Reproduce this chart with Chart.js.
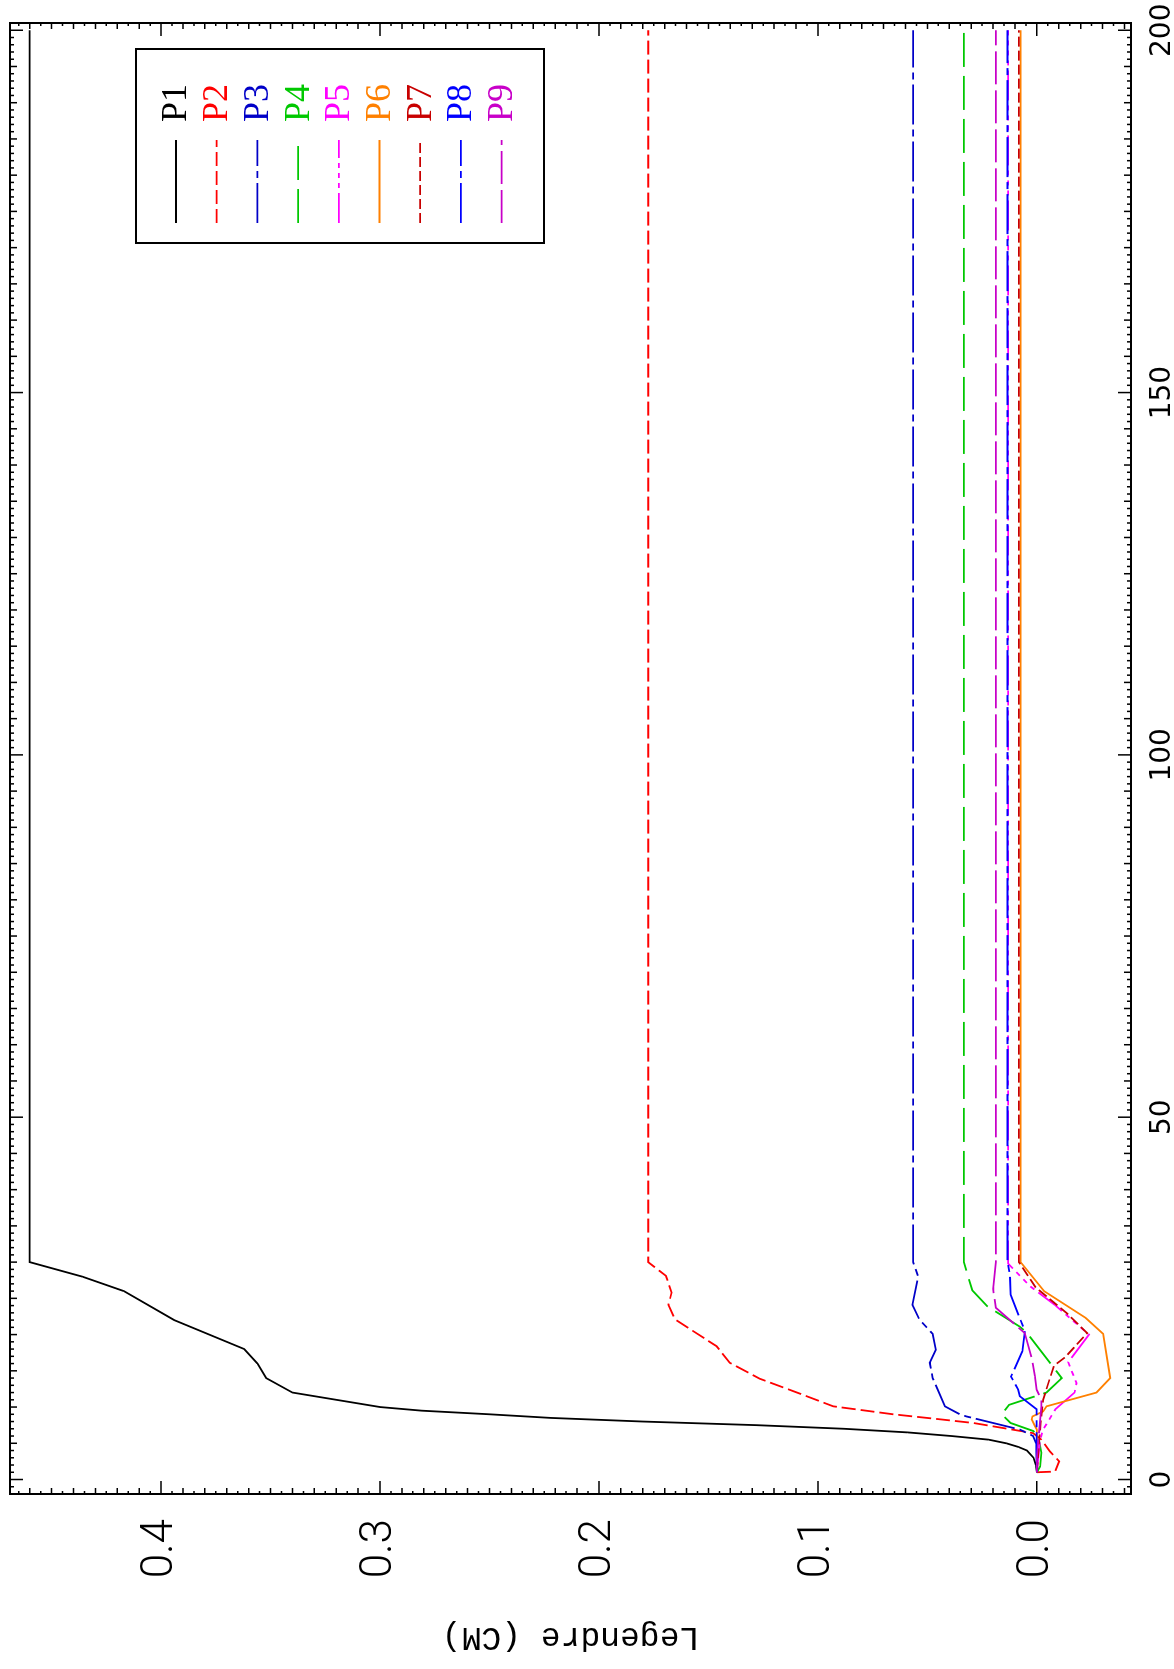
<!DOCTYPE html>
<html>
<head>
<meta charset="utf-8">
<script src="https://cdn.jsdelivr.net/npm/chart.js@4.4.0/dist/chart.umd.min.js"></script>
<style>
  html, body { margin: 0; padding: 0; background: #fff; overflow: hidden; }
  /* the plot is drawn in landscape and turned a quarter turn to the left */
  #wrap {
    position: absolute; left: 0; top: 0;
    width: 1669px; height: 1174px;
    transform-origin: 0 0;
    transform: translate(0, 1669px) rotate(-90deg);
  }
</style>
</head>
<body>
<div id="wrap"><canvas id="legendreChart" width="1669" height="1174"></canvas></div>
<script>
// axis ticks
const xTicks = [0, 50, 100, 150, 200];
const yTicks = [0.0, 0.1, 0.2, 0.3, 0.4];
const seriesNames = ['P1', 'P2', 'P3', 'P4', 'P5', 'P6', 'P7', 'P8', 'P9'];

// values (x, coefficient)
const p1X = [1, 2, 3, 4, 4.5, 5, 5.5, 6, 6.5, 7, 7.5, 8, 8.5, 9, 9.5, 10, 12, 14, 16, 18, 22, 26, 28, 30, 200];
const p1Y = [0, 0.0004, 0.0015, 0.0045, 0.0085, 0.014, 0.022, 0.039, 0.059, 0.088, 0.128, 0.180, 0.222, 0.250, 0.281, 0.300, 0.340, 0.352, 0.356, 0.362, 0.394, 0.417, 0.436, 0.460, 0.460];

const p2X = [1, 1.1, 2.5, 3.9, 5.5, 6.4, 7.8, 8.3, 9.0, 10.1, 12.2, 13.9, 16.1, 18.4, 22.1, 24.1, 25.8, 28.1, 30, 200];
const p2Y = [0, -0.0083, -0.0102, -0.0059, -0.0021, 0.0017, 0.029, 0.044, 0.0656, 0.093, 0.1113, 0.1265, 0.1402, 0.1463, 0.1653, 0.1683, 0.1668, 0.1694, 0.1775, 0.1775];

const p3X = [1, 5, 6.0, 6.9, 8.7, 9, 10.1, 14, 16.1, 17.9, 20.1, 22.1, 24.1, 28, 30, 200];
const p3Y = [0, 0.0003, 0.0017, 0.0078, 0.0321, 0.0352, 0.042, 0.0476, 0.0489, 0.0461, 0.0476, 0.0537, 0.0568, 0.0542, 0.0565, 0.0565];

const p4X = [1, 1.8, 3.7, 6.0, 6.7, 7.8, 9, 10.3, 12, 14, 20.3, 21.1, 23.9, 26.1, 30, 200];
const p4Y = [0, -0.0015, -0.0021, -0.0006, 0.0017, 0.012, 0.0161, 0.0127, -0.0044, -0.0114, 0.0047, 0.0078, 0.0226, 0.0295, 0.0333, 0.0333];

const p5X = [1, 5.5, 6.9, 9.7, 12, 13.3, 16.2, 20, 24.1, 26.7, 29.8, 200];
const p5Y = [0, -0.0015, -0.0029, -0.0085, -0.0172, -0.0181, -0.0143, -0.0238, -0.0082, 0.0032, 0.0131, 0.0131];

const p6X = [1, 6.9, 7.4, 8.3, 8.7, 9.4, 10.1, 12, 14, 20.1, 22.3, 26, 30, 200];
const p6Y = [0, 0, 0.0009, 0.0024, 0.0020, -0.0029, -0.0044, -0.0272, -0.0335, -0.0303, -0.0223, -0.0033, 0.0074, 0.0074];

const p7X = [1, 7.8, 11, 12.5, 15.7, 16.9, 20.2, 23, 26.5, 30, 200];
const p7Y = [0, -0.0017, -0.0029, -0.0044, -0.0078, -0.0130, -0.0230, -0.0135, 0.0005, 0.0082, 0.0082];

const p8X = [1, 9.7, 11.5, 12.4, 14.2, 17.7, 20.5, 25.5, 28.3, 30, 200];
const p8Y = [0, 0.0001, 0.0078, 0.0085, 0.0118, 0.0066, 0.0055, 0.0120, 0.0123, 0.0134, 0.0134];

const p9X = [1, 3, 7.8, 10.1, 11, 12.4, 14.3, 16.8, 20.2, 23.7, 26.3, 30, 200];
const p9Y = [0, 0, -0.0014, -0.0021, -0.0021, 0.0001, 0.0009, 0.0024, 0.0055, 0.0187, 0.0200, 0.0187, 0.0187];

const seriesX = [p1X, p2X, p3X, p4X, p5X, p6X, p7X, p8X, p9X];
const seriesY = [p1Y, p2Y, p3Y, p4Y, p5Y, p6Y, p7Y, p8Y, p9Y];

// line styles
const colors = ['#000000', '#ff0000', '#0000c8', '#00c800', '#ff00ff', '#ff8000', '#c80000', '#0000ff', '#c800c8'];
const dashes = [[], [14, 5], [40, 5, 7, 5], [34, 9], [30, 5, 5, 5, 5, 5, 5, 5], [], [10, 4], [40, 5, 7, 5], [33, 6]];
const monoFont = '"Liberation Mono", monospace';

const datasets = seriesNames.map((name, i) => ({
  label: name,
  data: seriesX[i].map((x, j) => ({ x: x, y: seriesY[i][j] })),
  borderColor: colors[i],
  borderDash: dashes[i],
  borderWidth: 1.8,
  pointRadius: 0,
  fill: false,
  tension: 0,
  order: seriesNames.length - i
}));

// keep the plot box where it is: no extra room for edge labels
function noPad(s) {
  s.paddingLeft = 0; s.paddingRight = 0; s.paddingTop = 0; s.paddingBottom = 0;
}

// box + inward ticks on all four sides
const frameTicks = {
  id: 'frameTicks',
  afterDatasetsDraw(chart) {
    const { ctx, chartArea: a, scales: { x, y } } = chart;
    ctx.save();
    ctx.strokeStyle = '#000';
    ctx.lineWidth = 1.5;
    ctx.beginPath();
    for (let v = Math.ceil(x.min); v <= x.max; v++) {
      const len = v % 50 === 0 ? 13 : (v % 5 === 0 ? 7 : 4);
      const px = x.getPixelForValue(v);
      ctx.moveTo(px, a.bottom); ctx.lineTo(px, a.bottom - len);
      ctx.moveTo(px, a.top); ctx.lineTo(px, a.top + len);
    }
    for (let k = Math.ceil(y.min / 0.005); k * 0.005 <= y.max; k++) {
      const len = k % 20 === 0 ? 13 : (k % 2 === 0 ? 6 : 3);
      const py = y.getPixelForValue(k * 0.005);
      ctx.moveTo(a.left, py); ctx.lineTo(a.left + len, py);
      ctx.moveTo(a.right, py); ctx.lineTo(a.right - len, py);
    }
    ctx.stroke();
    ctx.lineWidth = 2;
    ctx.strokeRect(a.left, a.top, a.width, a.height);
    ctx.restore();
  }
};

// framed legend in the upper right corner
const boxLegend = {
  id: 'boxLegend',
  afterDraw(chart) {
    const { ctx, chartArea: a } = chart;
    ctx.save();
    ctx.strokeStyle = '#000';
    ctx.lineWidth = 2;
    ctx.strokeRect(a.right - 220, a.top + 126, 194, 408);
    ctx.font = '36px "Liberation Serif"';
    ctx.textBaseline = 'middle';
    ctx.textAlign = 'left';
    chart.data.datasets.forEach((ds, i) => {
      const rowY = a.top + 166 + 40.7 * i;
      ctx.strokeStyle = ds.borderColor;
      ctx.lineWidth = 1.8;
      ctx.setLineDash(ds.borderDash);
      ctx.beginPath();
      ctx.moveTo(a.right - 200, rowY);
      ctx.lineTo(a.right - 117, rowY);
      ctx.stroke();
      ctx.setLineDash([]);
      ctx.fillStyle = ds.borderColor;
      ctx.fillText(ds.label, a.right - 99, rowY + 1);
    });
    ctx.restore();
  }
};

const ctx = document.getElementById('legendreChart').getContext('2d');
new Chart(ctx, {
  type: 'line',
  data: { datasets: datasets },
  options: {
    responsive: false,
    animation: false,
    devicePixelRatio: 1,
    layout: { padding: { top: 10, right: 23, left: 0, bottom: 0 } },
    plugins: {
      legend: { display: false },
      tooltip: { enabled: false }
    },
    scales: {
      x: {
        type: 'linear',
        min: -2,
        max: 201,
        grid: { display: false },
        border: { display: false },
        afterBuildTicks: s => { s.ticks = xTicks.map(v => ({ value: v })); },
        afterFit: s => { s.height = 43; noPad(s); },
        ticks: {
          color: '#000',
          font: { family: 'DejaVu Sans', size: 28 },
          padding: 7,
          maxRotation: 0,
          autoSkip: false,
          callback: v => String(v)
        }
      },
      y: {
        type: 'linear',
        min: -0.043,
        max: 0.469,
        grid: { display: false },
        border: { display: false },
        afterBuildTicks: s => { s.ticks = yTicks.map(v => ({ value: v })); },
        afterFit: s => { s.width = 175; noPad(s); },
        ticks: {
          color: '#000',
          font: { family: 'Roboto', weight: 300, size: 44 },
          padding: 17,
          callback: v => v.toFixed(1)
        },
        title: {
          display: true,
          text: 'Legendre (CM)',
          color: '#000',
          font: { family: monoFont, size: 33 },
          padding: { top: 12, bottom: 0 }
        }
      }
    }
  },
  plugins: [frameTicks, boxLegend]
});
</script>
</body>
</html>
